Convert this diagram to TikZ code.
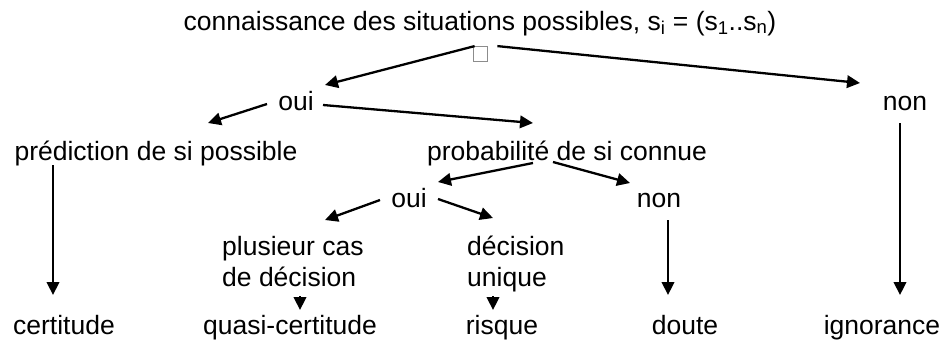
\documentclass[tikz,border=0pt]{standalone}
\usepackage{fontspec}
\setmainfont{Liberation Sans}
\usetikzlibrary{arrows.meta}
\begin{document}
\begin{tikzpicture}[x=1pt,y=-1pt,
  lbl/.style={inner sep=0pt, anchor=base, font=\fontsize{26.5}{31}\selectfont},
  lbll/.style={inner sep=0pt, anchor=base west, align=left, font=\fontsize{26.5}{31}\selectfont},
  arr/.style={line width=2.3pt, -{Triangle[length=13pt,width=12.5pt]}},
  sqbox/.style={draw=black!45, line width=0.8pt, fill=white, minimum width=14pt, minimum height=15pt, inner sep=0pt}]
\useasboundingbox (0,0) rectangle (944,340);
\fill[white] (0,0) rectangle (944,340);
\node[lbl] (title) at (480,30) {connaissance des situations possibles, s\textsubscript{i} = (s\textsubscript{1}..s\textsubscript{n})};
\node[sqbox] (sq) at (480,54) {};
\node[lbl] (oui1) at (296,110) {oui};
\node[lbl] (non1) at (905,110) {non};
\node[lbl] (pred) at (156,160) {prédiction de si possible};
\node[lbl] (prob) at (567,160) {probabilité de si connue};
\node[lbl] (oui2) at (409,207) {oui};
\node[lbl] (non2) at (659,207) {non};
\node[lbll] (plus) at (222,286) {plusieur cas\\de décision};
\node[lbll] (dec) at (467,286) {décision\\unique};
\node[lbl] (cert) at (64,334) {certitude};
\node[lbl] (quasi) at (290,334) {quasi-certitude};
\node[lbl] (risque) at (502,334) {risque};
\node[lbl] (doute) at (685,334) {doute};
\node[lbl] (ignor) at (882,334) {ignorance};
\draw[arr] ([shift={(2,0)}]sq.north west) -- ([shift={(29,-25)}]oui1.base);
\draw[arr] ([shift={(10,0)}]sq.north east) -- ([shift={(-45,-27)}]non1.base);
\draw[arr] ([shift={(-29,-6)}]oui1.base) -- ([shift={(52,-37)}]pred.base);
\draw[arr] ([shift={(27,-5)}]oui1.base) -- ([shift={(-34,-37)}]prob.base);
\draw[arr] ([shift={(-103,5)}]pred.base) -- ([shift={(-11,-39)}]cert.base);
\draw[arr] ([shift={(-34,3)}]prob.base) -- ([shift={(29,-25)}]oui2.base);
\draw[arr] ([shift={(-14,2)}]prob.base) -- ([shift={(-29,-24)}]non2.base);
\draw[arr] ([shift={(-29,-7)}]oui2.base) -- ([shift={(103,-66)}]plus.base west);
\draw[arr] ([shift={(29,-8)}]oui2.base) -- ([shift={(26,-68)}]dec.base west);
\draw[arr] ([shift={(10,-38)}]quasi.base) -- ([shift={(10,-24)}]quasi.base);
\draw[arr] ([shift={(-9,-38)}]risque.base) -- ([shift={(-9,-24)}]risque.base);
\draw[arr] ([shift={(9,13)}]non2.base) -- ([shift={(-17,-39)}]doute.base);
\draw[arr] ([shift={(-5,13)}]non1.base) -- ([shift={(18,-39)}]ignor.base);
\end{tikzpicture}
\end{document}
